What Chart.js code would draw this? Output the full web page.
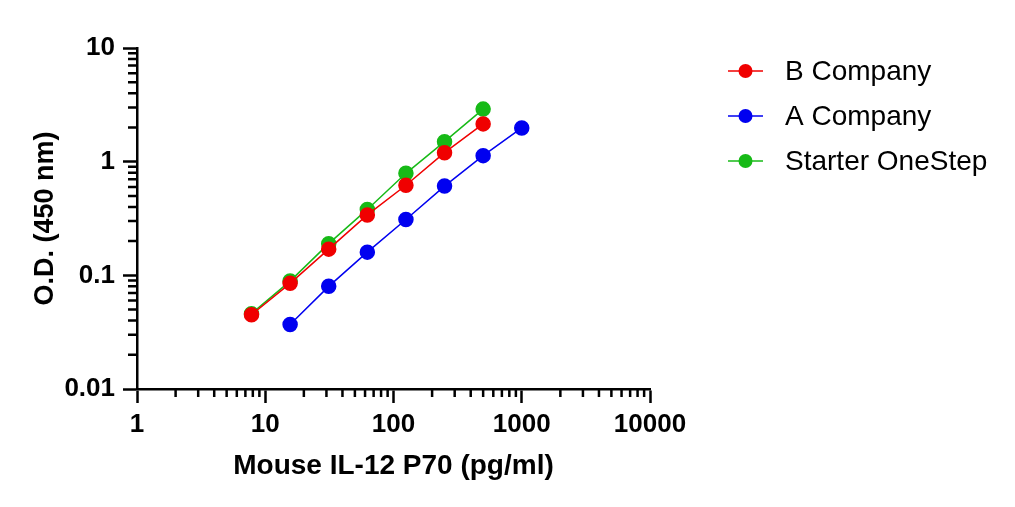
<!DOCTYPE html>
<html>
<head>
<meta charset="utf-8">
<script src="https://cdn.jsdelivr.net/npm/chart.js@4"></script>
<style>
  html, body { margin: 0; padding: 0; background: #fff; }
  #wrap { width: 1015px; height: 507px; }
</style>
</head>
<body>
<div id="wrap"><canvas id="odChart"></canvas></div>
<script>
// concentrations (pg/ml)
const concB = [7.8125, 15.625, 31.25, 62.5, 125, 250, 500]
const concA = [15.625, 31.25, 62.5, 125, 250, 500, 1000]
const concStarter = [7.8125, 15.625, 31.25, 62.5, 125, 250, 500]

// O.D. readings
const odB = [0.045, 0.085, 0.17, 0.34, 0.62, 1.2, 2.15]
const odA = [0.037, 0.080, 0.16, 0.31, 0.61, 1.13, 1.98]
const odStarter = [0.046, 0.089, 0.19, 0.38, 0.79, 1.5, 2.9]

const seriesNames = ['B Company', 'A Company', 'Starter OneStep']
const seriesColors = ['#f00000', '#0000f0', '#17ba17']

const xTickValues = [1, 10, 100, 1000, 10000]
const xTickLabels = ['1', '10', '100', '1000', '10000']
const yTickValues = [0.01, 0.1, 1, 10]
const yTickLabels = ['0.01', '0.1', '1', '10']

const FONT = '"Liberation Sans", Arial, sans-serif'

const toPoints = (xs, ys) => xs.map((x, i) => ({ x: x, y: ys[i] }))

const makeSet = (i, xs, ys) => ({
  label: seriesNames[i],
  data: toPoints(xs, ys),
  borderColor: seriesColors[i],
  backgroundColor: seriesColors[i],
  pointBackgroundColor: seriesColors[i],
  pointBorderColor: seriesColors[i],
  pointRadius: 7,
  pointHoverRadius: 7,
  borderWidth: 1.5,
  showLine: true,
  tension: 0
})

// minor log ticks + legend, drawn on top of the chart
const extras = {
  id: 'extras',
  afterDraw(chart) {
    const ctx = chart.ctx
    const xs = chart.scales.x
    const ys = chart.scales.y
    const area = chart.chartArea
    ctx.save()
    ctx.strokeStyle = '#000'
    ctx.lineWidth = 2.5
    ctx.beginPath()
    for (let d = 1; d < 10000; d *= 10) {
      for (let k = 2; k < 10; k++) {
        const px = xs.getPixelForValue(d * k)
        ctx.moveTo(px, area.bottom)
        ctx.lineTo(px, area.bottom + 8)
      }
    }
    for (let d = 0.01; d < 9; d *= 10) {
      for (let k = 2; k < 10; k++) {
        const py = ys.getPixelForValue(d * k)
        ctx.moveTo(area.left, py)
        ctx.lineTo(area.left - 9, py)
      }
    }
    ctx.stroke()

    // legend
    ctx.font = '28px ' + FONT
    ctx.textBaseline = 'middle'
    ctx.textAlign = 'left'
    seriesNames.forEach((name, i) => {
      const y = 71 + i * 45
      ctx.strokeStyle = seriesColors[i]
      ctx.lineWidth = 1.5
      ctx.beginPath()
      ctx.moveTo(728, y)
      ctx.lineTo(763, y)
      ctx.stroke()
      ctx.fillStyle = seriesColors[i]
      ctx.beginPath()
      ctx.arc(745.5, y, 7, 0, Math.PI * 2)
      ctx.fill()
      ctx.fillStyle = '#000'
      ctx.fillText(name, 785, y + 1)
    })
    ctx.restore()
  }
}

const axisCommon = {
  type: 'logarithmic',
  grid: {
    display: true,
    drawOnChartArea: false,
    drawTicks: true,
    tickLength: 14,
    tickWidth: 2.5,
    tickColor: '#000'
  },
  border: { display: true, color: '#000', width: 2.5 }
}

const odChart = new Chart(document.getElementById('odChart'), {
  type: 'scatter',
  data: {
    datasets: [
      makeSet(0, concB, odB),
      makeSet(1, concA, odA),
      makeSet(2, concStarter, odStarter)
    ]
  },
  options: {
    responsive: true,
    maintainAspectRatio: false,
    animation: false,
    layout: { padding: { left: 0, top: 48, right: 365, bottom: 0 } },
    plugins: {
      legend: { display: false },
      tooltip: { enabled: false }
    },
    scales: {
      x: {
        ...axisCommon,
        min: 1,
        max: 10000,
        afterBuildTicks: (scale) => { scale.ticks = xTickValues.map(v => ({ value: v })) },
        afterFit: (scale) => { scale.height = 118 },
        ticks: {
          autoSkip: false,
          maxRotation: 0,
          padding: 6,
          color: '#000',
          font: { family: FONT, size: 26, weight: 'bold' },
          callback: (v) => xTickLabels[xTickValues.indexOf(v)] ?? ''
        },
        title: {
          display: true,
          text: 'Mouse IL-12 P70 (pg/ml)',
          color: '#000',
          font: { family: FONT, size: 28, weight: 'bold' },
          padding: { top: 0, bottom: 24 }
        }
      },
      y: {
        ...axisCommon,
        min: 0.01,
        max: 10,
        afterBuildTicks: (scale) => { scale.ticks = yTickValues.map(v => ({ value: v })) },
        afterFit: (scale) => { scale.width = 137 },
        ticks: {
          autoSkip: false,
          padding: 8,
          color: '#000',
          font: { family: FONT, size: 26, weight: 'bold' },
          callback: (v) => {
            const i = yTickValues.findIndex(t => Math.abs(t - v) < t * 1e-6)
            return i >= 0 ? yTickLabels[i] : ''
          }
        },
        title: {
          display: true,
          text: 'O.D. (450 nm)',
          color: '#000',
          font: { family: FONT, size: 27, weight: 'bold' },
          padding: { top: 29, bottom: 0 }
        }
      }
    }
  },
  plugins: [extras]
})
</script>
</body>
</html>
